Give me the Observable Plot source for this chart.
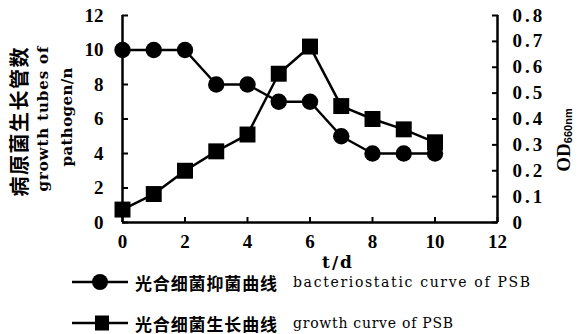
<!DOCTYPE html>
<html><head><meta charset="utf-8">
<script src="https://cdn.jsdelivr.net/npm/d3@7"></script>
<script src="https://cdn.jsdelivr.net/npm/@observablehq/plot@0.6"></script>
<style>
html,body{margin:0;padding:0;background:#fff;}
#wrap{width:580px;height:334px;overflow:hidden;background:#fff;}
</style></head><body><div id="wrap"></div>
<script>
const days = [0,1,2,3,4,5,6,7,8,9,10];
const inhibition = [10,10,10,8,8,7,7,5,4,4,4];          // growth tubes of pathogen / n
const growthOD = [0.05,0.11,0.2,0.275,0.34,0.575,0.68,0.45,0.4,0.36,0.31]; // OD660nm
const xTicks = [0,2,4,6,8,10,12];
const leftTicks = [0,2,4,6,8,10,12];
const rightTicks = [0,0.1,0.2,0.3,0.4,0.5,0.6,0.7,0.8];
const seriesCN = ["光合细菌抑菌曲线","光合细菌生长曲线"];
const seriesEN = ["bacteriostatic curve of PSB","growth curve of PSB"];
const leftTitle = ["病原菌生长管数","growth tubes of","pathogen/n"];
const xTitle = "t/d";

const leftMax = 12, odMax = 0.8, k = leftMax / odMax;
const d1 = days.map((d,i)=>({day:d, value:inhibition[i]}));
const d2 = days.map((d,i)=>({day:d, od:growthOD[i]}));
const fmtR = v => { const o = Math.round(v / k * 10) / 10; return o === 0 ? "0" : o.toFixed(1); };

const chart = Plot.plot({
  width:580, height:334, marginTop:15, marginBottom:112, marginLeft:122, marginRight:83,
  style:{fontFamily:"'Liberation Serif', serif", fontSize:"19px", fontWeight:"bold", color:"#000", background:"#fff"},
  x:{domain:[0,12]}, y:{domain:[0,12]},
  marks:[
    Plot.axisX({ticks:xTicks, tickSize:0, tickPadding:12, stroke:"none", label:null}),
    Plot.axisX({ticks:xTicks, tickSize:5, dy:-5, fill:"none", strokeWidth:2, label:null}),
    Plot.axisY({ticks:leftTicks, tickSize:0, tickPadding:19, stroke:"none", label:null}),
    Plot.axisY({ticks:leftTicks, tickSize:6, dx:6, fill:"none", strokeWidth:2, label:null}),
    Plot.axisY({anchor:"right", ticks:rightTicks.map(v=>v*k), tickSize:0, tickPadding:15, stroke:"none", tickFormat:fmtR, label:null}),
    Plot.axisY({anchor:"right", ticks:rightTicks.map(v=>v*k), tickSize:6, dx:-6, fill:"none", strokeWidth:2, label:null}),
    Plot.ruleX([0,12], {strokeWidth:2.5}),
    Plot.ruleY([0], {strokeWidth:2.5}),
    Plot.line(d1, {x:"day", y:"value", stroke:"black", strokeWidth:2.5}),
    Plot.line(d2, {x:"day", y:d=>d.od*k, stroke:"black", strokeWidth:2.5}),
    Plot.dot(d1, {x:"day", y:"value", r:8.2, fill:"black"}),
    Plot.dot(d2, {x:"day", y:d=>d.od*k, r:9, symbol:"square", fill:"black"})
  ]
});
const wrap = document.getElementById("wrap");
wrap.appendChild(chart);
const svg = d3.select(chart);
svg.selectAll("text").attr("font-family","Liberation Serif").attr("font-weight","bold").attr("font-size","19px");
svg.selectAll("text").filter(function(){return /^0\.\d$/.test(this.textContent);}).attr("letter-spacing","3px");

function label(sel, x, y, txt, fam, size, len, rot, weight){
  const t = sel.append("text").attr("transform",`translate(${x},${y})` + (rot ? " rotate(-90)" : ""))
    .attr("text-anchor","middle").attr("dominant-baseline","central")
    .attr("font-family",fam).attr("font-size",size).attr("font-weight",weight||"bold").attr("fill","#000")
    .text(txt);
  if (len) t.attr("textLength",len).attr("lengthAdjust","spacing");
  return t;
}
// left title (three rotated lines)
label(svg, 18, 122, leftTitle[0], "Noto Sans CJK SC", "20px", 149, true);
label(svg, 43, 119, leftTitle[1], "DejaVu Serif", "15px", 145, true);
label(svg, 67, 117, leftTitle[2], "DejaVu Serif", "15px", 99, true);
// right title
const rt = svg.append("text").attr("transform","translate(563,140) rotate(-90)")
  .attr("text-anchor","middle").attr("dominant-baseline","central")
  .attr("font-family","Liberation Serif").attr("font-size","19px").attr("font-weight","bold").attr("fill","#000");
rt.append("tspan").text("OD");
rt.append("tspan").attr("font-family","Liberation Sans").attr("font-size","11px").attr("font-weight","bold").attr("dy","5").text("660nm");
// x title
label(svg, 337, 262, xTitle, "DejaVu Serif", "17px", 30, false);

// legend
const rowsY = [282, 323];
seriesCN.forEach((cn,i)=>{
  const y = rowsY[i];
  const g = svg.append("g").attr("text-anchor","start");
  g.append("line").attr("x1",72).attr("x2",128).attr("y1",y).attr("y2",y).attr("stroke","#000").attr("stroke-width",2.5);
  if (i === 0) g.append("circle").attr("cx",100).attr("cy",y).attr("r",8).attr("fill","#000");
  else g.append("rect").attr("x",95).attr("y",y-7.5).attr("width",14).attr("height",15).attr("fill","#000");
  g.append("text").attr("x",135).attr("y",y).attr("dominant-baseline","central").attr("text-anchor","start")
    .attr("font-family","Noto Sans CJK SC").attr("font-size","17px").attr("font-weight","bold").attr("fill","#000")
    .attr("textLength",142).attr("lengthAdjust","spacing").text(cn);
  g.append("text").attr("x",293).attr("y",y).attr("dominant-baseline","central").attr("text-anchor","start")
    .attr("font-family","DejaVu Serif").attr("font-size","14px").attr("font-weight","normal").attr("fill","#000")
    .attr("textLength", i === 0 ? 237 : 160).attr("lengthAdjust","spacing").text(seriesEN[i]);
});
</script></body></html>
